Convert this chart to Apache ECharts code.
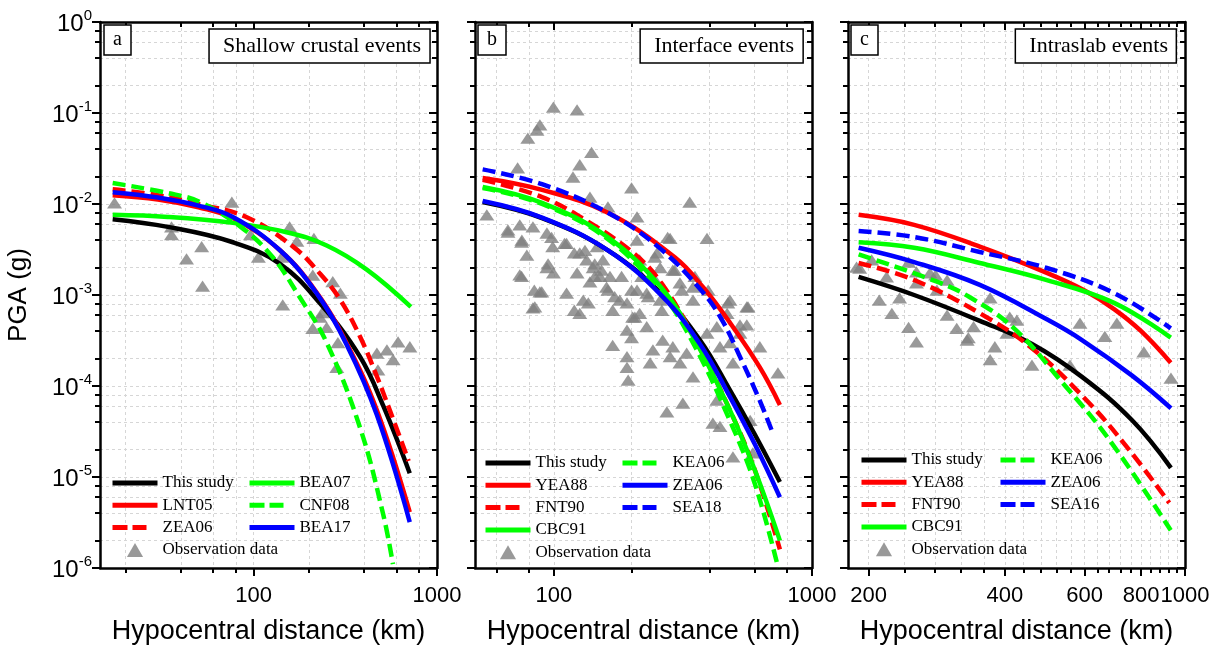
<!DOCTYPE html>
<html><head><meta charset="utf-8">
<script src="https://cdn.jsdelivr.net/npm/echarts@6/dist/echarts.min.js"></script>
<style>html,body{margin:0;padding:0;background:#fff}#c{width:1217px;height:651px}</style>
</head><body><div id="c"></div>
<script>
// ---------------- DATA ----------------
const yMajor = [1e-6, 1e-5, 1e-4, 1e-3, 1e-2, 1e-1, 1];
const yMinor = [2e-6,4e-6,6e-6,8e-6, 2e-5,4e-5,6e-5,8e-5, 2e-4,4e-4,6e-4,8e-4, 2e-3,4e-3,6e-3,8e-3, 2e-2,4e-2,6e-2,8e-2, 2e-1,4e-1,6e-1,8e-1];
const xMajorA = [100, 1000];
const xMinorA = [20, 40, 60, 80, 200, 400, 600, 800];
const xMajorB = [100, 1000];
const xMinorB = [60, 80, 200, 400, 600, 800];
const xMajorC = [200, 400, 600, 800, 1000];
const xMinorC = [240, 280, 320, 360, 440, 480, 520, 560, 640, 680, 720, 760, 840, 880, 920, 960];
const panelTitles = ['Shallow crustal events', 'Interface events', 'Intraslab events'];
const panelLetters = ['a', 'b', 'c'];

// Panel a: shallow crustal events
const a_thisStudy = [[17,6.8e-3],[34,5.6e-3],[77,3.8e-3],[139,2.2e-3],[230,8.1e-4],[380,2.1e-4],[510,6.0e-5],[710,1.1e-5]];
const a_LNT05 = [[17,1.25e-2],[30,1.12e-2],[50,9.2e-3],[77,7.0e-3],[139,3.1e-3],[220,1.07e-3],[320,3.0e-4],[470,5.4e-5],[710,4.1e-6]];
const a_ZEA06 = [[17,1.45e-2],[30,1.25e-2],[52,9.8e-3],[91,7.2e-3],[164,3.4e-3],[229,1.73e-3],[295,9.0e-4],[380,3.5e-4],[468,1.3e-4],[553,5.4e-5],[700,1.5e-5]];
const a_BEA07 = [[17,7.6e-3],[34,7.2e-3],[77,6.2e-3],[151,4.9e-3],[250,3.5e-3],[414,1.9e-3],[720,7.4e-4]];
const a_CNF08 = [[17,1.7e-2],[34,1.32e-2],[51,1.05e-2],[87,5.4e-3],[127,2.6e-3],[178,9.5e-4],[250,3.0e-4],[380,3.5e-5],[507,4.0e-6],[575,1.1e-6]];
const a_BEA17 = [[17,1.35e-2],[30,1.18e-2],[50,9.6e-3],[77,7.2e-3],[139,3.1e-3],[220,1.05e-3],[320,2.9e-4],[470,4.8e-5],[710,3.2e-6]];
const a_obs = [[17.4,1.03e-2],[35.6,5.6e-3],[35.6,4.6e-3],[43,2.5e-3],[52,3.4e-3],[52.6,1.25e-3],[76,1.05e-2],[96,4.6e-3],[106,2.6e-3],[142,2.6e-3],[144,7.8e-4],[157,5.6e-3],[172,3.9e-3],[213,4.2e-3],[210,1.65e-3],[270,1.4e-3],[297,1.05e-3],[230,5.7e-4],[236,6.4e-4],[210,4.3e-4],[250,4.4e-4],[288,3.0e-4],[284,1.6e-4],[470,2.3e-4],[533,2.5e-4],[576,1.95e-4],[613,3.05e-4],[711,2.7e-4],[476,1.5e-4]];

// Panel b: interface events
const b_thisStudy = [[53,1.05e-2],[90,7.0e-3],[162,3.1e-3],[262,1.02e-3],[368,3.2e-4],[481,9.0e-5],[600,2.95e-5],[751,8.8e-6]];
const b_YEA88 = [[53,1.93e-2],[90,1.43e-2],[162,8.0e-3],[294,2.6e-3],[380,1.2e-3],[480,5.0e-4],[628,1.6e-4],[751,6.2e-5]];
const b_FNT90 = [[53,1.85e-2],[90,1.19e-2],[132,6.7e-3],[206,2.8e-3],[261,1.35e-3],[350,3.4e-4],[480,5.5e-5],[600,1.2e-5],[751,1.6e-6]];
const b_CBC91 = [[53,1.54e-2],[90,1.03e-2],[162,4.3e-3],[261,1.2e-3],[350,3.3e-4],[480,5.5e-5],[600,1.2e-5],[751,2.0e-6]];
const b_KEA06 = [[53,1.5e-2],[90,1.0e-2],[162,4.1e-3],[261,1.05e-3],[350,2.8e-4],[480,4.2e-5],[600,8.5e-6],[740,1.0e-6]];
const b_ZEA06 = [[53,1.08e-2],[90,7.1e-3],[162,3.1e-3],[262,9.8e-4],[368,2.9e-4],[481,7.6e-5],[600,2.3e-5],[751,6.0e-6]];
const b_SEA18 = [[53,2.4e-2],[90,1.65e-2],[162,8.0e-3],[253,3.4e-3],[375,1.1e-3],[450,5.2e-4],[530,2.0e-4],[620,7.5e-5],[706,3.0e-5]];
const b_obs = [[99.6,0.116],[123,0.108],[88.3,0.074],[86,0.065],[79.3,0.053],[140,0.037],[126,0.027],[118.6,0.0198],[72.4,0.0249],[200,0.015],[336,0.0105],
[55,7.6e-3],[66.4,5.2e-3],[73.8,5.9e-3],[83,5.6e-3],[75.2,4.0e-3],[78.6,2.75e-3],[73.8,1.66e-3],[94,4.8e-3],[99,3.4e-3],[112,3.7e-3],[94,2.0e-3],[99.6,1.75e-3],[88.3,1.08e-3],[83,7.2e-4],[112,1.05e-3],[123,1.75e-3],[126,2.9e-3],[134,2.43e-3],[142,2.0e-3],[147,3.4e-3],[155,2.43e-3],[151,1.6e-3],[138,1.39e-3],[160,1.22e-3],[165,1.6e-3],[130,8.8e-4],[126,6.3e-4],[180,8.8e-4],[169,6.8e-4],[192,8.2e-4],[202,5.7e-4],[210,1.13e-3],[215,2.43e-3],[210,4.0e-3],[210,7.2e-3],[162,9.3e-3],[138,1.19e-2],[282,4.2e-3],[392,4.2e-3],[251,2.9e-3],[258,2.0e-3],[289,1.88e-3],[308,1.36e-3],[242,1.6e-3],[229,1.05e-3],[258,8.8e-4],[215,6.3e-4],[346,1.22e-3],[346,8.8e-4],[481,8.8e-4],[559,7.4e-4],[469,6.3e-4],[526,4.7e-4],
[192,4.1e-4],[169,2.8e-4],[200,3.4e-4],[192,2.1e-4],[192,1.6e-4],[194,1.16e-4],[242,2.5e-4],[236,1.8e-4],[264,3.2e-4],[289,2.7e-4],[282,2.1e-4],[308,1.8e-4],[327,2.3e-4],[346,1.26e-4],[274,5.2e-5],[316,6.5e-5],[229,4.5e-4],[392,3.8e-4],[428,4.5e-4],[440,2.7e-4],[481,3.0e-4],[526,3.8e-4],[559,4.7e-4],[628,2.7e-4],[738,1.39e-4],[494,1.8e-4],[428,7.0e-5],[413,3.9e-5],[440,3.6e-5],[494,1.66e-5],[590,1.84e-5],[576,4.2e-5],
[66.4,4.9e-3],[75,3.8e-3],[75,1.6e-3],[84.4,7.4e-4],[89.8,1.08e-3],
[98,4.3e-3],[110,3.7e-3],[120,2.9e-3],[132,3.1e-3],[144,2.2e-3],[144,1.6e-3],[153,1.88e-3],[162,1.13e-3],[172,9.6e-4],[183,1.6e-3],[200,1.13e-3],[219,1.6e-3],[232,9.6e-4],[246,2.6e-3],[276,4.3e-3],[294,1.88e-3],[313,1.13e-3],[352,1.6e-3],[396,1.13e-3],[472,8.2e-4],[565,7.4e-4],[136,8.2e-4],[120,6.8e-4],[84,1.13e-3],[95,2.2e-3],[206,5.7e-4],[262,6.8e-4]];

// Panel c: intraslab events
const c_thisStudy = [[190,1.58e-3],[252,1.0e-3],[352,5.2e-4],[459,2.9e-4],[592,1.26e-4],[764,4.2e-5],[931,1.26e-5]];
const c_YEA88 = [[190,7.6e-3],[252,5.9e-3],[352,3.4e-3],[495,1.75e-3],[600,1.12e-3],[697,7.0e-4],[800,4.0e-4],[930,1.8e-4]];
const c_FNT90 = [[190,2.25e-3],[252,1.46e-3],[352,6.3e-4],[459,2.6e-4],[614,6.5e-5],[752,2.0e-5],[923,5.2e-6]];
const c_CBC91 = [[190,3.8e-3],[252,3.3e-3],[352,2.25e-3],[495,1.46e-3],[697,8.2e-4],[930,3.4e-4]];
const c_KEA06 = [[190,2.8e-3],[283,1.4e-3],[334,9.5e-4],[419,4.3e-4],[535,1.1e-4],[679,2.6e-5],[930,2.6e-6]];
const c_ZEA06 = [[190,3.3e-3],[252,2.3e-3],[352,1.29e-3],[495,5.4e-4],[592,3.2e-4],[764,1.3e-4],[931,5.7e-5]];
const c_SEA16 = [[190,5.05e-3],[252,4.34e-3],[352,2.97e-3],[495,1.98e-3],[697,1.05e-3],[930,4.3e-4]];
const c_obs = [[188,2.03e-3],[191,1.98e-3],[203,2.43e-3],[219,1.58e-3],[211,8.8e-4],[225,6.3e-4],[234,9.3e-4],[245,4.4e-4],[255,3.05e-4],[245,2.3e-3],[255,1.79e-3],[255,1.36e-3],[273,1.75e-3],[283,1.13e-3],[298,1.46e-3],[298,6.0e-4],[313,4.3e-4],[330,3.2e-4],[341,4.5e-4],[371,9.3e-4],[410,5.7e-4],[425,5.3e-4],[404,3.8e-4],[380,2.7e-4],[371,1.95e-4],[459,1.7e-4],[557,1.7e-4],[586,4.9e-4],[665,3.5e-4],[707,4.9e-4],[811,2.37e-4],[931,1.22e-4],[281,1.66e-3],[332,3.4e-4]];

// ---------------- STYLE / LAYOUT ----------------
const SANS = 'Liberation Sans, Arial, sans-serif';
const SERIF = 'Liberation Serif, Times New Roman, serif';
const RED = '#ff0000', GREEN = '#00ff00', BLUE = '#0000ff', BLACK = '#000000', GRAY = '#808080';
const TRIANGLE = 'path://M7.5,0L15,13L0,13Z';
const DASH = [13, 6];
const LW = 4.5;
const gridBoxes = [
  {left: 100, top: 22, width: 337, height: 546},
  {left: 475, top: 22, width: 337, height: 546},
  {left: 848, top: 22, width: 337, height: 546}
];
const xRanges = [[14.5, 1000], [49.5, 1000], [180, 1000]];
const xMajors = [xMajorA, xMajorB, xMajorC];
const xMinors = [xMinorA, xMinorB, xMinorC];
const gridLine = {show: true, lineStyle: {color: '#d6d6d6', type: [3, 3], width: 1}};

const xAxis = [], yAxis = [];
for (let g = 0; g < 3; g++) {
  const bx = {type: 'log', logBase: 10, gridIndex: g, min: xRanges[g][0], max: xRanges[g][1], silent: true};
  xAxis.push(Object.assign({}, bx, {position: 'bottom',
    axisLine: {show: true, onZero: false, lineStyle: {color: '#000', width: 2.5}},
    axisTick: {show: true, inside: false, length: 8, lineStyle: {color: '#000', width: 2}, customValues: xMajors[g]},
    axisLabel: {show: true, customValues: xMajors[g], margin: 17, fontSize: 22, fontFamily: SANS, color: '#000',
      formatter: v => String(Math.round(v))},
    splitLine: gridLine,
    name: 'Hypocentral distance (km)', nameLocation: 'middle', nameGap: 50,
    nameTextStyle: {fontSize: 27, fontFamily: SANS, color: '#000'}}));
  xAxis.push(Object.assign({}, bx, {position: 'bottom',
    axisLine: {show: false, onZero: false},
    axisTick: {show: true, inside: false, length: 5, lineStyle: {color: '#000', width: 2}, customValues: xMinors[g]},
    axisLabel: {show: false}, splitLine: gridLine}));
  xAxis.push(Object.assign({}, bx, {position: 'top',
    axisLine: {show: true, onZero: false, lineStyle: {color: '#000', width: 2.5}},
    axisTick: {show: true, inside: true, length: 8, lineStyle: {color: '#000', width: 2}, customValues: xMajors[g]},
    axisLabel: {show: false}, splitLine: {show: false}}));
  xAxis.push(Object.assign({}, bx, {position: 'top',
    axisLine: {show: false, onZero: false},
    axisTick: {show: true, inside: true, length: 5, lineStyle: {color: '#000', width: 2}, customValues: xMinors[g]},
    axisLabel: {show: false}, splitLine: {show: false}}));

  const by = {type: 'log', logBase: 10, gridIndex: g, min: 1e-6, max: 1, silent: true};
  const left = Object.assign({}, by, {position: 'left',
    axisLine: {show: true, onZero: false, lineStyle: {color: '#000', width: 2.5}},
    axisTick: {show: true, inside: false, length: 8, lineStyle: {color: '#000', width: 2}, customValues: yMajor},
    axisLabel: {show: g === 0, customValues: yMajor, margin: 8,
      formatter: v => '{b|10}{s|' + Math.round(Math.log10(v)) + '}',
      rich: {b: {fontSize: 24, fontFamily: SANS, color: '#000', lineHeight: 28, verticalAlign: 'bottom'},
             s: {fontSize: 15, fontFamily: SANS, color: '#000', lineHeight: 28, verticalAlign: 'top'}}},
    splitLine: gridLine});
  if (g === 0) {
    Object.assign(left, {name: 'PGA (g)', nameLocation: 'middle', nameGap: 68, nameRotate: 90,
      nameTextStyle: {fontSize: 26, fontFamily: SANS, color: '#000'}});
  }
  yAxis.push(left);
  yAxis.push(Object.assign({}, by, {position: 'left',
    axisLine: {show: false, onZero: false},
    axisTick: {show: true, inside: false, length: 5, lineStyle: {color: '#000', width: 2}, customValues: yMinor},
    axisLabel: {show: false}, splitLine: gridLine}));
  yAxis.push(Object.assign({}, by, {position: 'right',
    axisLine: {show: true, onZero: false, lineStyle: {color: '#000', width: 2.5}},
    axisTick: {show: true, inside: true, length: 8, lineStyle: {color: '#000', width: 2}, customValues: yMajor},
    axisLabel: {show: false}, splitLine: {show: false}}));
  yAxis.push(Object.assign({}, by, {position: 'right',
    axisLine: {show: false, onZero: false},
    axisTick: {show: true, inside: true, length: 5, lineStyle: {color: '#000', width: 2}, customValues: yMinor},
    axisLabel: {show: false}, splitLine: {show: false}}));
}

const series = [];
function addObs(g, name, data) {
  series.push({type: 'scatter', name: name, xAxisIndex: g * 4, yAxisIndex: g * 4, data: data,
    symbol: TRIANGLE, symbolKeepAspect: true, symbolSize: [15, 13], itemStyle: {color: GRAY}, z: 1, silent: true});
}
function addLine(g, name, data, color, dashed) {
  series.push({type: 'line', name: name, xAxisIndex: g * 4, yAxisIndex: g * 4, data: data,
    symbol: 'none', showSymbol: false, smooth: 0.4, clip: true, color: color,
    lineStyle: {color: color, width: LW, type: dashed ? DASH : 'solid', cap: 'butt'},
    itemStyle: {color: color}, z: 3, silent: true});
}
addObs(0, 'a:Observation data', a_obs);
addLine(0, 'a:This study', a_thisStudy, BLACK, false);
addLine(0, 'a:LNT05', a_LNT05, RED, false);
addLine(0, 'a:ZEA06', a_ZEA06, RED, true);
addLine(0, 'a:BEA07', a_BEA07, GREEN, false);
addLine(0, 'a:CNF08', a_CNF08, GREEN, true);
addLine(0, 'a:BEA17', a_BEA17, BLUE, false);

addObs(1, 'b:Observation data', b_obs);
addLine(1, 'b:This study', b_thisStudy, BLACK, false);
addLine(1, 'b:YEA88', b_YEA88, RED, false);
addLine(1, 'b:FNT90', b_FNT90, RED, true);
addLine(1, 'b:CBC91', b_CBC91, GREEN, false);
addLine(1, 'b:KEA06', b_KEA06, GREEN, true);
addLine(1, 'b:ZEA06', b_ZEA06, BLUE, false);
addLine(1, 'b:SEA18', b_SEA18, BLUE, true);

addObs(2, 'c:Observation data', c_obs);
addLine(2, 'c:This study', c_thisStudy, BLACK, false);
addLine(2, 'c:YEA88', c_YEA88, RED, false);
addLine(2, 'c:FNT90', c_FNT90, RED, true);
addLine(2, 'c:CBC91', c_CBC91, GREEN, false);
addLine(2, 'c:KEA06', c_KEA06, GREEN, true);
addLine(2, 'c:ZEA06', c_ZEA06, BLUE, false);
addLine(2, 'c:SEA16', c_SEA16, BLUE, true);

const dashedNames = ['a:ZEA06', 'a:CNF08', 'b:FNT90', 'b:KEA06', 'b:SEA18', 'c:FNT90', 'c:KEA06', 'c:SEA16'];
function legendItems(names) {
  return names.map(n => {
    if (n.indexOf('Observation') >= 0) return {name: n, icon: TRIANGLE};
    return {name: n,
      itemStyle: {color: 'transparent', borderColor: 'transparent', borderWidth: 0},
      lineStyle: {width: 5, type: dashedNames.indexOf(n) >= 0 ? [15, 5, 14, 20] : 'solid'}};
  });
}
function mkLegend(left, top, names) {
  return {show: true, orient: 'vertical', left: left, top: top, padding: 0, itemGap: 5.3,
    itemWidth: 45, itemHeight: 14, symbolKeepAspect: true, selectedMode: false, data: legendItems(names),
    formatter: n => n.slice(2),
    textStyle: {fontFamily: SERIF, fontSize: 17, color: '#000'}};
}
const legend = [
  mkLegend(110, 474.5, ['a:This study', 'a:LNT05', 'a:ZEA06', 'a:Observation data']),
  mkLegend(247, 474.5, ['a:BEA07', 'a:CNF08', 'a:BEA17']),
  mkLegend(483, 454.5, ['b:This study', 'b:YEA88', 'b:FNT90', 'b:CBC91', 'b:Observation data']),
  mkLegend(620, 454.5, ['b:KEA06', 'b:ZEA06', 'b:SEA18']),
  mkLegend(859, 451.5, ['c:This study', 'c:YEA88', 'c:FNT90', 'c:CBC91', 'c:Observation data']),
  mkLegend(998, 451.5, ['c:KEA06', 'c:ZEA06', 'c:SEA16'])
];

const boxText = {fontFamily: SERIF, fontWeight: 'normal', color: '#000'};
const title = [];
const letterLefts = [104, 478, 851];
const titleRights = [1217 - 430, 1217 - 803, 1217 - 1177];
for (let g = 0; g < 3; g++) {
  title.push({text: panelLetters[g], left: letterLefts[g], top: 25, padding: [5, 9, 5, 9],
    borderColor: '#000', borderWidth: 1.5, backgroundColor: '#fff',
    textStyle: Object.assign({fontSize: 20, lineHeight: 20}, boxText)});
  title.push({text: panelTitles[g], right: titleRights[g], top: 29, padding: [6, 9, 6, 14],
    borderColor: '#000', borderWidth: 1.5, backgroundColor: '#fff',
    textStyle: Object.assign({fontSize: 22, lineHeight: 22}, boxText)});
}

const chart = echarts.init(document.getElementById('c'), null, {renderer: 'canvas'});
chart.setOption({
  backgroundColor: '#fff',
  animation: false,
  grid: gridBoxes,
  xAxis: xAxis,
  yAxis: yAxis,
  title: title,
  legend: legend,
  series: series
});
</script>
</body></html>
